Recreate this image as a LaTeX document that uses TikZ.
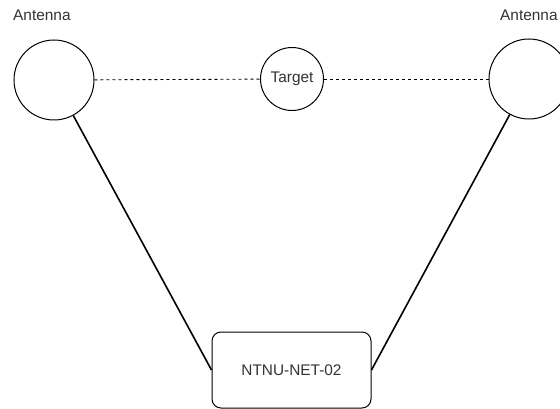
\documentclass[tikz,border=0pt]{standalone}
\usepackage{fontspec}
\setmainfont{Liberation Sans}
\begin{document}
\begin{tikzpicture}[x=1pt,y=-1pt,
  txt/.style={font=\fontsize{15.4}{18}\selectfont,text=black!80},
  antenna/.style={circle,draw,line width=1pt,minimum size=80pt,inner sep=0pt},
  target/.style={circle,draw,line width=1pt,minimum size=63pt,inner sep=0pt,txt},
  device/.style={draw,rounded corners=9pt,line width=1pt,minimum width=159pt,minimum height=76pt,inner sep=0pt,txt},
  lbl/.style={inner sep=0pt,txt},
  link/.style={line width=1.6pt},
  sight/.style={line width=0.9pt,dash pattern=on 3pt off 3pt}]
\useasboundingbox (0,0) rectangle (560,409);
\node[antenna] (la) at (54,80) {};
\node[antenna] (ra) at (529,79) {};
\node[target] (tg) at (292,79) {Target};
\node[device] (dev) at (291.5,370) {NTNU-NET-02};
\node[lbl,anchor=west] (lal) at (13,15) {Antenna};
\node[lbl,anchor=west] (ral) at (500,15) {Antenna};
\draw[sight] (la) -- (tg);
\draw[sight] (tg) -- (ra);
\draw[link] (la) -- (dev.west);
\draw[link] (ra) -- (dev.east);
\end{tikzpicture}
\end{document}
